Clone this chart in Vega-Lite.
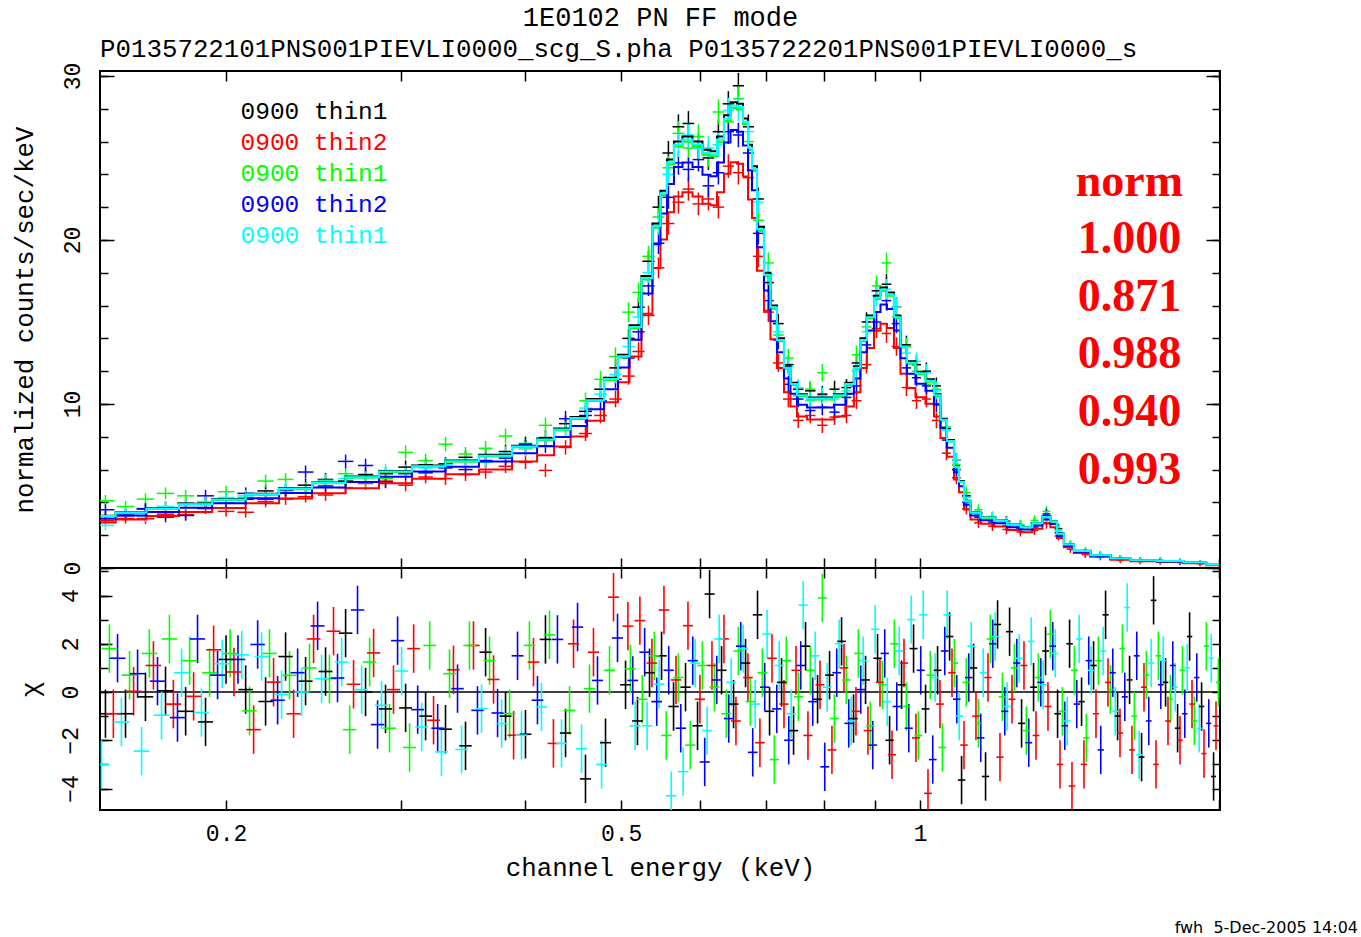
{
"$schema": "https://vega.github.io/schema/vega-lite/v6.json",
"background": "#ffffff",
"padding": {"left": 10, "top": 4, "right": 2, "bottom": 0},
"config": {
  "view": {"stroke": "#000000", "strokeWidth": 2},
  "axis": {"grid": false, "domain": false, "tickColor": "#000000", "tickWidth": 1.5, "labelFont": "Liberation Mono", "labelFontSize": 23, "labelColor": "#000000", "titleFont": "Liberation Mono", "titleFontSize": 25.8, "titleFontWeight": "normal", "titleColor": "#000000", "labelOverlap": false, "labelFlush": false}
},
"datasets": {
"one": [{}],
"spec": [
{"e":0.1512,"k":3.15,"r":2.88,"g":4.10,"b":3.55,"c":2.60},
{"e":0.1584,"k":3.19,"r":3.02,"g":3.75,"b":3.30,"c":3.42},
{"e":0.1659,"k":3.60,"r":3.00,"g":4.20,"b":3.62,"c":3.12},
{"e":0.1738,"k":3.70,"r":3.28,"g":4.55,"b":3.10,"c":3.75},
{"e":0.1821,"k":3.95,"r":3.25,"g":4.40,"b":3.20,"c":3.90},
{"e":0.1907,"k":3.98,"r":3.62,"g":3.95,"b":4.40,"c":4.05},
{"e":0.2000,"k":4.25,"r":3.45,"g":4.65,"b":3.95,"c":4.30},
{"e":0.2093,"k":4.20,"r":3.40,"g":4.30,"b":4.55,"c":4.40},
{"e":0.2192,"k":4.70,"r":4.05,"g":5.30,"b":4.20,"c":4.45},
{"e":0.2296,"k":4.60,"r":4.20,"g":5.40,"b":4.75,"c":4.90},
{"e":0.2405,"k":5.05,"r":4.35,"g":4.80,"b":5.85,"c":4.85},
{"e":0.2519,"k":5.40,"r":4.45,"g":5.35,"b":5.00,"c":5.30},
{"e":0.2639,"k":5.30,"r":4.90,"g":5.75,"b":6.50,"c":5.45},
{"e":0.2764,"k":5.70,"r":5.15,"g":5.20,"b":6.25,"c":5.50},
{"e":0.2895,"k":5.75,"r":5.30,"g":5.45,"b":5.25,"c":5.95},
{"e":0.3033,"k":6.15,"r":5.05,"g":7.05,"b":5.75,"c":5.90},
{"e":0.3177,"k":6.30,"r":5.55,"g":6.55,"b":5.80,"c":6.10},
{"e":0.3327,"k":6.35,"r":5.45,"g":7.55,"b":6.10,"c":6.30},
{"e":0.3485,"k":6.75,"r":5.70,"g":6.95,"b":6.00,"c":6.55},
{"e":0.3651,"k":6.85,"r":5.85,"g":7.30,"b":6.55,"c":6.45},
{"e":0.3824,"k":7.10,"r":6.20,"g":8.05,"b":6.70,"c":7.00},
{"e":0.4005,"k":7.35,"r":6.45,"g":7.60,"b":7.55,"c":7.25},
{"e":0.4195,"k":7.95,"r":5.95,"g":8.70,"b":7.45,"c":7.80},
{"e":0.4395,"k":8.80,"r":7.35,"g":8.40,"b":9.10,"c":8.45},
{"e":0.4603,"k":9.55,"r":8.20,"g":10.2,"b":9.30,"c":9.75},
{"e":0.4766,"k":10.9,"r":9.30,"g":11.5,"b":10.2,"c":10.6},
{"e":0.4935,"k":12.2,"r":10.3,"g":12.9,"b":11.5,"c":11.8},
{"e":0.5086,"k":14.0,"r":11.7,"g":15.6,"b":12.8,"c":13.5},
{"e":0.5205,"k":15.9,"r":13.2,"g":16.8,"b":14.4,"c":15.3},
{"e":0.5327,"k":18.7,"r":15.4,"g":19.0,"b":17.2,"c":18.0},
{"e":0.5452,"k":22.0,"r":18.3,"g":21.4,"b":19.8,"c":21.0},
{"e":0.5579,"k":25.3,"r":21.0,"g":24.4,"b":22.6,"c":24.0},
{"e":0.5710,"k":26.9,"r":22.3,"g":26.5,"b":24.7,"c":25.8},
{"e":0.5844,"k":27.1,"r":23.1,"g":25.6,"b":24.3,"c":26.4},
{"e":0.5981,"k":25.7,"r":22.2,"g":26.3,"b":24.9,"c":25.6},
{"e":0.6121,"k":25.0,"r":22.5,"g":25.2,"b":23.3,"c":25.6},
{"e":0.6265,"k":26.6,"r":22.0,"g":27.8,"b":24.1,"c":25.8},
{"e":0.6411,"k":28.3,"r":24.5,"g":27.2,"b":26.6,"c":27.9},
{"e":0.6562,"k":29.4,"r":24.1,"g":28.6,"b":26.4,"c":28.0},
{"e":0.6716,"k":26.9,"r":23.8,"g":26.0,"b":25.3,"c":26.6},
{"e":0.6873,"k":22.5,"r":19.0,"g":21.2,"b":20.4,"c":22.3},
{"e":0.7034,"k":17.4,"r":15.6,"g":18.6,"b":16.3,"c":17.9},
{"e":0.7199,"k":14.9,"r":12.5,"g":14.2,"b":13.9,"c":14.4},
{"e":0.7368,"k":12.4,"r":10.3,"g":12.8,"b":11.2,"c":12.3},
{"e":0.7540,"k":10.9,"r":9.0,"g":10.5,"b":10.3,"c":11.0},
{"e":0.7753,"k":10.8,"r":9.3,"g":10.9,"b":9.6,"c":10.2},
{"e":0.7972,"k":10.6,"r":8.7,"g":11.9,"b":9.8,"c":10.5},
{"e":0.8201,"k":10.9,"r":9.2,"g":10.4,"b":9.5,"c":10.3},
{"e":0.8432,"k":11.0,"r":9.3,"g":10.6,"b":10.4,"c":10.8},
{"e":0.8630,"k":12.5,"r":10.2,"g":13.0,"b":11.1,"c":12.0},
{"e":0.8832,"k":15.0,"r":12.4,"g":14.7,"b":13.6,"c":14.4},
{"e":0.9039,"k":16.9,"r":14.6,"g":17.2,"b":15.0,"c":16.6},
{"e":0.9251,"k":17.3,"r":14.3,"g":18.6,"b":16.3,"c":17.0},
{"e":0.9468,"k":15.9,"r":13.5,"g":15.3,"b":14.9,"c":15.9},
{"e":0.9690,"k":13.6,"r":11.0,"g":13.5,"b":12.2,"c":13.1},
{"e":0.9917,"k":12.4,"r":10.2,"g":12.0,"b":11.6,"c":12.6},
{"e":1.0149,"k":12.0,"r":10.3,"g":11.2,"b":11.1,"c":11.9},
{"e":1.0387,"k":11.1,"r":9.0,"g":10.9,"b":10.0,"c":10.8},
{"e":1.0630,"k":8.5,"r":7.0,"g":8.6,"b":7.8,"c":8.4},
{"e":1.0880,"k":6.6,"r":5.5,"g":6.3,"b":6.0,"c":6.6},
{"e":1.1135,"k":4.4,"r":3.6,"g":4.6,"b":4.0,"c":4.3},
{"e":1.1449,"k":3.35,"r":2.75,"g":3.55,"b":3.1,"c":3.3},
{"e":1.1827,"k":3.1,"r":2.55,"g":3.05,"b":2.8,"c":3.15},
{"e":1.2219,"k":2.85,"r":2.35,"g":2.7,"b":2.55,"c":2.8},
{"e":1.2622,"k":2.6,"r":2.2,"g":2.65,"b":2.4,"c":2.55},
{"e":1.3039,"k":2.75,"r":2.3,"g":2.9,"b":2.5,"c":2.7},
{"e":1.3406,"k":3.2,"r":2.7,"g":3.45,"b":3.3,"c":3.1},
{"e":1.3785,"k":2.4,"r":1.95,"g":2.35,"b":2.15,"c":2.3},
{"e":1.4174,"k":1.4,"r":1.15,"g":1.45,"b":1.3,"c":1.35},
{"e":1.4674,"k":1.0,"r":0.82,"g":1.05,"b":0.92,"c":0.98},
{"e":1.5193,"k":0.8,"r":0.66,"g":0.78,"b":0.75,"c":0.77},
{"e":1.5914,"k":0.6,"r":0.48,"g":0.6,"b":0.55,"c":0.58},
{"e":1.6669,"k":0.48,"r":0.4,"g":0.46,"b":0.45,"c":0.48},
{"e":1.7460,"k":0.46,"r":0.37,"g":0.45,"b":0.41,"c":0.44},
{"e":1.8287,"k":0.4,"r":0.33,"g":0.4,"b":0.36,"c":0.39},
{"e":1.9155,"k":0.31,"r":0.26,"g":0.3,"b":0.28,"c":0.3}
],
"model": [
{"e":0.1495,"k":3.19,"r":2.78,"g":3.15,"b":3.00,"c":3.17},
{"e":0.1603,"k":3.40,"r":2.96,"g":3.36,"b":3.20,"c":3.38},
{"e":0.1725,"k":3.64,"r":3.17,"g":3.60,"b":3.42,"c":3.61},
{"e":0.1864,"k":3.92,"r":3.41,"g":3.87,"b":3.68,"c":3.89},
{"e":0.2012,"k":4.20,"r":3.66,"g":4.15,"b":3.95,"c":4.17},
{"e":0.2177,"k":4.52,"r":3.94,"g":4.47,"b":4.25,"c":4.49},
{"e":0.2350,"k":4.86,"r":4.23,"g":4.80,"b":4.57,"c":4.83},
{"e":0.2536,"k":5.22,"r":4.55,"g":5.16,"b":4.91,"c":5.18},
{"e":0.2745,"k":5.58,"r":4.86,"g":5.51,"b":5.25,"c":5.54},
{"e":0.2962,"k":5.92,"r":5.16,"g":5.85,"b":5.56,"c":5.88},
{"e":0.3198,"k":6.25,"r":5.44,"g":6.18,"b":5.88,"c":6.21},
{"e":0.3460,"k":6.56,"r":5.71,"g":6.48,"b":6.17,"c":6.51},
{"e":0.3736,"k":6.90,"r":6.01,"g":6.82,"b":6.49,"c":6.85},
{"e":0.4034,"k":7.45,"r":6.49,"g":7.36,"b":7.00,"c":7.40},
{"e":0.4196,"k":7.90,"r":6.88,"g":7.81,"b":7.43,"c":7.84},
{"e":0.4365,"k":8.50,"r":7.40,"g":8.40,"b":7.99,"c":8.44},
{"e":0.4530,"k":9.20,"r":8.01,"g":9.09,"b":8.65,"c":9.14},
{"e":0.4712,"k":10.3,"r":8.97,"g":10.18,"b":9.68,"c":10.23},
{"e":0.4901,"k":11.6,"r":10.10,"g":11.46,"b":10.90,"c":11.52},
{"e":0.5027,"k":13.0,"r":11.32,"g":12.84,"b":12.22,"c":12.91},
{"e":0.5169,"k":14.8,"r":12.89,"g":14.62,"b":13.91,"c":14.70},
{"e":0.5314,"k":17.8,"r":15.50,"g":17.59,"b":16.73,"c":17.68},
{"e":0.5439,"k":21.0,"r":18.29,"g":20.75,"b":19.74,"c":20.85},
{"e":0.5515,"k":23.0,"r":20.03,"g":22.72,"b":21.62,"c":22.84},
{"e":0.5606,"k":24.9,"r":21.69,"g":24.60,"b":23.41,"c":24.73},
{"e":0.5697,"k":26.0,"r":22.65,"g":25.69,"b":24.44,"c":25.82},
{"e":0.5831,"k":26.3,"r":22.91,"g":25.98,"b":24.72,"c":26.12},
{"e":0.5968,"k":26.0,"r":22.65,"g":25.69,"b":24.44,"c":25.82},
{"e":0.6108,"k":25.5,"r":22.21,"g":25.19,"b":23.97,"c":25.32},
{"e":0.6193,"k":25.4,"r":22.12,"g":25.10,"b":23.88,"c":25.22},
{"e":0.6295,"k":26.3,"r":22.91,"g":25.98,"b":24.72,"c":26.12},
{"e":0.6398,"k":27.6,"r":24.04,"g":27.27,"b":25.94,"c":27.41},
{"e":0.6488,"k":28.4,"r":24.74,"g":28.06,"b":26.70,"c":28.20},
{"e":0.6594,"k":28.3,"r":24.65,"g":27.96,"b":26.60,"c":28.10},
{"e":0.6671,"k":27.4,"r":23.87,"g":27.07,"b":25.76,"c":27.21},
{"e":0.6749,"k":25.8,"r":22.47,"g":25.49,"b":24.25,"c":25.62},
{"e":0.6796,"k":24.5,"r":21.34,"g":24.21,"b":23.03,"c":24.33},
{"e":0.6907,"k":20.8,"r":18.12,"g":20.55,"b":19.55,"c":20.65},
{"e":0.7020,"k":18.0,"r":15.68,"g":17.78,"b":16.92,"c":17.87},
{"e":0.7118,"k":16.0,"r":13.94,"g":15.81,"b":15.04,"c":15.89},
{"e":0.7235,"k":14.0,"r":12.19,"g":13.83,"b":13.16,"c":13.90},
{"e":0.7353,"k":12.3,"r":10.71,"g":12.15,"b":11.56,"c":12.21},
{"e":0.7456,"k":11.3,"r":9.84,"g":11.16,"b":10.62,"c":11.22},
{"e":0.7578,"k":10.6,"r":9.23,"g":10.47,"b":9.96,"c":10.53},
{"e":0.7810,"k":10.4,"r":9.06,"g":10.28,"b":9.78,"c":10.33},
{"e":0.8067,"k":10.4,"r":9.06,"g":10.28,"b":9.78,"c":10.33},
{"e":0.8314,"k":10.6,"r":9.23,"g":10.47,"b":9.96,"c":10.53},
{"e":0.8508,"k":11.3,"r":9.84,"g":11.16,"b":10.62,"c":11.22},
{"e":0.8648,"k":12.3,"r":10.71,"g":12.15,"b":11.56,"c":12.21},
{"e":0.8769,"k":14.0,"r":12.19,"g":13.83,"b":13.16,"c":13.90},
{"e":0.8915,"k":15.4,"r":13.41,"g":15.22,"b":14.48,"c":15.29},
{"e":0.9060,"k":16.6,"r":14.46,"g":16.40,"b":15.60,"c":16.48},
{"e":0.9187,"k":17.1,"r":14.89,"g":16.89,"b":16.07,"c":16.98},
{"e":0.9337,"k":16.8,"r":14.63,"g":16.60,"b":15.79,"c":16.68},
{"e":0.9490,"k":15.4,"r":13.41,"g":15.22,"b":14.48,"c":15.29},
{"e":0.9623,"k":13.6,"r":11.85,"g":13.44,"b":12.78,"c":13.50},
{"e":0.9780,"k":12.6,"r":10.97,"g":12.45,"b":11.84,"c":12.51},
{"e":1.0010,"k":11.95,"r":10.41,"g":11.81,"b":11.23,"c":11.87},
{"e":1.0245,"k":11.5,"r":10.02,"g":11.36,"b":10.81,"c":11.42},
{"e":1.0412,"k":10.6,"r":9.23,"g":10.47,"b":9.96,"c":10.53},
{"e":1.0558,"k":9.1,"r":7.93,"g":8.99,"b":8.55,"c":9.04},
{"e":1.0731,"k":7.8,"r":6.79,"g":7.71,"b":7.33,"c":7.75},
{"e":1.0907,"k":6.2,"r":5.40,"g":6.13,"b":5.83,"c":6.16},
{"e":1.0983,"k":5.3,"r":4.62,"g":5.24,"b":4.98,"c":5.26},
{"e":1.1163,"k":4.1,"r":3.57,"g":4.05,"b":3.85,"c":4.07},
{"e":1.1319,"k":3.4,"r":2.96,"g":3.36,"b":3.20,"c":3.38},
{"e":1.1692,"k":3.1,"r":2.70,"g":3.06,"b":2.91,"c":3.08},
{"e":1.2050,"k":2.9,"r":2.53,"g":2.87,"b":2.73,"c":2.88},
{"e":1.2418,"k":2.65,"r":2.31,"g":2.62,"b":2.49,"c":2.63},
{"e":1.2828,"k":2.5,"r":2.18,"g":2.47,"b":2.35,"c":2.48},
{"e":1.3129,"k":2.75,"r":2.40,"g":2.72,"b":2.59,"c":2.73},
{"e":1.3437,"k":3.15,"r":2.74,"g":3.11,"b":2.96,"c":3.13},
{"e":1.3625,"k":2.85,"r":2.48,"g":2.82,"b":2.68,"c":2.83},
{"e":1.3848,"k":2.1,"r":1.83,"g":2.07,"b":1.97,"c":2.09},
{"e":1.4075,"k":1.45,"r":1.26,"g":1.43,"b":1.36,"c":1.44},
{"e":1.4505,"k":1.05,"r":0.91,"g":1.04,"b":0.99,"c":1.04},
{"e":1.5193,"k":0.78,"r":0.68,"g":0.77,"b":0.73,"c":0.77},
{"e":1.5914,"k":0.58,"r":0.51,"g":0.57,"b":0.55,"c":0.58},
{"e":1.6670,"k":0.47,"r":0.41,"g":0.46,"b":0.44,"c":0.47},
{"e":1.7998,"k":0.42,"r":0.37,"g":0.41,"b":0.39,"c":0.42},
{"e":1.8851,"k":0.33,"r":0.29,"g":0.33,"b":0.31,"c":0.33},
{"e":2.0000,"k":0.2,"r":0.17,"g":0.2,"b":0.19,"c":0.2}
],
"resid": [
{"s":"k","e":0.1512,"r":-0.9},{"s":"k","e":0.1584,"r":-0.9},{"s":"k","e":0.1659,"r":-0.2},{"s":"k","e":0.1738,"r":0.05},{"s":"k","e":0.1821,"r":-0.8},{"s":"k","e":0.1907,"r":-1.24},{"s":"k","e":0.2000,"r":1.35},{"s":"k","e":0.2093,"r":0.1},{"s":"k","e":0.2192,"r":-0.39},{"s":"k","e":0.2296,"r":1.47},{"s":"k","e":0.2405,"r":0.45},{"s":"k","e":0.2519,"r":0.85},{"s":"k","e":0.2639,"r":2.44},{"s":"k","e":0.2764,"r":0.0},{"s":"k","e":0.2895,"r":-0.7},{"s":"k","e":0.3033,"r":-0.66},{"s":"k","e":0.3177,"r":-1.0},{"s":"k","e":0.3327,"r":-1.54},{"s":"k","e":0.3485,"r":-2.23},{"s":"k","e":0.3651,"r":1.65},{"s":"k","e":0.3824,"r":-1.0},{"s":"k","e":0.4005,"r":-1.75},{"s":"k","e":0.4195,"r":2.18},{"s":"k","e":0.4395,"r":-1.7},{"s":"k","e":0.4603,"r":-3.6},{"s":"k","e":0.4822,"r":-2.1},
{"s":"k","e":0.5051,"r":0.3},{"s":"k","e":0.5193,"r":-1.2},{"s":"k","e":0.5340,"r":0.8},{"s":"k","e":0.5491,"r":1.5},{"s":"k","e":0.5646,"r":-0.6},{"s":"k","e":0.5805,"r":0.2},{"s":"k","e":0.5969,"r":-1.4},{"s":"k","e":0.6138,"r":4.06},{"s":"k","e":0.6311,"r":0.9},{"s":"k","e":0.6489,"r":-0.5},{"s":"k","e":0.6672,"r":1.2},{"s":"k","e":0.6860,"r":3.2},{"s":"k","e":0.7054,"r":-0.8},{"s":"k","e":0.7253,"r":0.4},{"s":"k","e":0.7458,"r":-1.6},{"s":"k","e":0.7668,"r":1.9},{"s":"k","e":0.7885,"r":-0.3},{"s":"k","e":0.8107,"r":0.7},{"s":"k","e":0.8336,"r":2.1},{"s":"k","e":0.8571,"r":-1.1},{"s":"k","e":0.8813,"r":0.5},{"s":"k","e":0.9062,"r":1.4},{"s":"k","e":0.9318,"r":-2.0},{"s":"k","e":0.9581,"r":0.3},{"s":"k","e":0.9851,"r":1.8},{"s":"k","e":1.0129,"r":-0.7},{"s":"k","e":1.0415,"r":0.9},{"s":"k","e":1.0709,"r":2.3},{"s":"k","e":1.1011,"r":-3.65},{"s":"k","e":1.1322,"r":1.0},{"s":"k","e":1.1641,"r":-3.5},{"s":"k","e":1.1970,"r":2.8},{"s":"k","e":1.2308,"r":2.5},{"s":"k","e":1.2655,"r":-1.3},{"s":"k","e":1.3012,"r":0.2},{"s":"k","e":1.3379,"r":1.7},{"s":"k","e":1.3757,"r":-0.9},{"s":"k","e":1.4145,"r":2.0},{"s":"k","e":1.4544,"r":-0.4},{"s":"k","e":1.4955,"r":1.1},{"s":"k","e":1.5377,"r":3.2},{"s":"k","e":1.5811,"r":-1.0},{"s":"k","e":1.6257,"r":0.5},{"s":"k","e":1.6716,"r":-2.7},{"s":"k","e":1.7188,"r":3.8},{"s":"k","e":1.7673,"r":0.4},{"s":"k","e":1.8172,"r":-1.5},{"s":"k","e":1.8685,"r":2.3},{"s":"k","e":1.9212,"r":-0.6},{"s":"k","e":1.9754,"r":-3.5},
{"s":"r","e":0.1540,"r":-0.9},{"s":"r","e":0.1614,"r":0.03},{"s":"r","e":0.1690,"r":1.1},{"s":"r","e":0.1770,"r":-0.5},{"s":"r","e":0.1855,"r":-0.18},{"s":"r","e":0.1943,"r":1.75},{"s":"r","e":0.2037,"r":0.83},{"s":"r","e":0.2132,"r":-1.56},{"s":"r","e":0.2233,"r":0.41},{"s":"r","e":0.2339,"r":-0.9},{"s":"r","e":0.2450,"r":2.2},{"s":"r","e":0.2566,"r":2.52},{"s":"r","e":0.2688,"r":0.32},{"s":"r","e":0.2816,"r":1.62},{"s":"r","e":0.2949,"r":0.1},{"s":"r","e":0.3090,"r":1.8},{"s":"r","e":0.3236,"r":-1.17},{"s":"r","e":0.3389,"r":0.92},{"s":"r","e":0.3550,"r":1.93},{"s":"r","e":0.3719,"r":0.52},{"s":"r","e":0.3896,"r":-1.79},{"s":"r","e":0.4080,"r":1.24},{"s":"r","e":0.4273,"r":-2.13},{"s":"r","e":0.4477,"r":2.0},{"s":"r","e":0.4689,"r":1.65},{"s":"r","e":0.4912,"r":3.93},
{"s":"r","e":0.5079,"r":2.73},{"s":"r","e":0.5222,"r":2.96},{"s":"r","e":0.5370,"r":1.2},{"s":"r","e":0.5522,"r":3.4},{"s":"r","e":0.5678,"r":0.5},{"s":"r","e":0.5838,"r":2.75},{"s":"r","e":0.6002,"r":-0.3},{"s":"r","e":0.6172,"r":1.1},{"s":"r","e":0.6346,"r":2.2},{"s":"r","e":0.6525,"r":-1.2},{"s":"r","e":0.6709,"r":0.6},{"s":"r","e":0.6898,"r":-2.1},{"s":"r","e":0.7094,"r":1.4},{"s":"r","e":0.7294,"r":-0.5},{"s":"r","e":0.7500,"r":0.9},{"s":"r","e":0.7711,"r":-1.8},{"s":"r","e":0.7929,"r":0.3},{"s":"r","e":0.8152,"r":-2.4},{"s":"r","e":0.8383,"r":1.0},{"s":"r","e":0.8619,"r":-0.8},{"s":"r","e":0.8862,"r":-1.6},{"s":"r","e":0.9113,"r":0.4},{"s":"r","e":0.9370,"r":-2.6},{"s":"r","e":0.9635,"r":1.2},{"s":"r","e":0.9906,"r":-1.9},{"s":"r","e":1.0186,"r":-4.2},{"s":"r","e":1.0473,"r":-0.5},{"s":"r","e":1.0769,"r":0.8},{"s":"r","e":1.1073,"r":-2.2},{"s":"r","e":1.1385,"r":-1.0},{"s":"r","e":1.1706,"r":0.6},{"s":"r","e":1.2037,"r":-2.7},{"s":"r","e":1.2377,"r":-0.3},{"s":"r","e":1.2726,"r":1.1},{"s":"r","e":1.3085,"r":-1.8},{"s":"r","e":1.3454,"r":-0.6},{"s":"r","e":1.3834,"r":-3.0},{"s":"r","e":1.4224,"r":-3.9},{"s":"r","e":1.4625,"r":-3.0},{"s":"r","e":1.5039,"r":-0.9},{"s":"r","e":1.5463,"r":0.4},{"s":"r","e":1.5900,"r":-1.7},{"s":"r","e":1.6348,"r":-2.4},{"s":"r","e":1.6810,"r":0.2},{"s":"r","e":1.7284,"r":-3.0},{"s":"r","e":1.7772,"r":-1.2},{"s":"r","e":1.8274,"r":-2.0},{"s":"r","e":1.8790,"r":-0.5},{"s":"r","e":1.9320,"r":-2.55},{"s":"r","e":1.9865,"r":-1.4},
{"s":"g","e":0.1526,"r":1.8},{"s":"g","e":0.1599,"r":0.7},{"s":"g","e":0.1674,"r":1.6},{"s":"g","e":0.1754,"r":2.2},{"s":"g","e":0.1838,"r":1.3},{"s":"g","e":0.1925,"r":0.8},{"s":"g","e":0.2019,"r":1.6},{"s":"g","e":0.2112,"r":-0.78},{"s":"g","e":0.2212,"r":1.6},{"s":"g","e":0.2317,"r":0.69},{"s":"g","e":0.2427,"r":1.0},{"s":"g","e":0.2542,"r":0.55},{"s":"g","e":0.2664,"r":-1.56},{"s":"g","e":0.2790,"r":1.24},{"s":"g","e":0.2922,"r":-1.5},{"s":"g","e":0.3061,"r":-2.3},{"s":"g","e":0.3207,"r":1.93},{"s":"g","e":0.3358,"r":0.76},{"s":"g","e":0.3517,"r":1.93},{"s":"g","e":0.3685,"r":1.3},{"s":"g","e":0.3860,"r":-0.9},{"s":"g","e":0.4042,"r":1.93},{"s":"g","e":0.4234,"r":2.37},{"s":"g","e":0.4436,"r":-0.76},{"s":"g","e":0.4646,"r":0.14},{"s":"g","e":0.4867,"r":0.9},
{"s":"g","e":0.5108,"r":0.96},{"s":"g","e":0.5251,"r":-0.3},{"s":"g","e":0.5400,"r":1.5},{"s":"g","e":0.5552,"r":-1.8},{"s":"g","e":0.5709,"r":0.6},{"s":"g","e":0.5870,"r":-2.2},{"s":"g","e":0.6036,"r":1.1},{"s":"g","e":0.6207,"r":0.2},{"s":"g","e":0.6382,"r":-0.9},{"s":"g","e":0.6562,"r":1.7},{"s":"g","e":0.6747,"r":-0.4},{"s":"g","e":0.6937,"r":0.8},{"s":"g","e":0.7133,"r":-2.8},{"s":"g","e":0.7334,"r":1.3},{"s":"g","e":0.7542,"r":-0.2},{"s":"g","e":0.7754,"r":0.9},{"s":"g","e":0.7973,"r":3.9},{"s":"g","e":0.8198,"r":-1.1},{"s":"g","e":0.8429,"r":0.5},{"s":"g","e":0.8667,"r":1.6},{"s":"g","e":0.8912,"r":-1.4},{"s":"g","e":0.9163,"r":0.3},{"s":"g","e":0.9422,"r":2.0},{"s":"g","e":0.9688,"r":-0.6},{"s":"g","e":0.9961,"r":-1.8},{"s":"g","e":1.0242,"r":0.7},{"s":"g","e":1.0532,"r":-2.3},{"s":"g","e":1.0829,"r":1.2},{"s":"g","e":1.1134,"r":0.4},{"s":"g","e":1.1449,"r":-1.3},{"s":"g","e":1.1771,"r":2.2},{"s":"g","e":1.2104,"r":-0.2},{"s":"g","e":1.2446,"r":1.0},{"s":"g","e":1.2797,"r":-1.6},{"s":"g","e":1.3158,"r":0.6},{"s":"g","e":1.3529,"r":2.4},{"s":"g","e":1.3911,"r":-0.8},{"s":"g","e":1.4303,"r":0.9},{"s":"g","e":1.4707,"r":-1.9},{"s":"g","e":1.5122,"r":1.3},{"s":"g","e":1.5549,"r":0.1},{"s":"g","e":1.5988,"r":1.8},{"s":"g","e":1.6439,"r":-1.0},{"s":"g","e":1.6903,"r":0.7},{"s":"g","e":1.7381,"r":1.5},{"s":"g","e":1.7871,"r":-0.3},{"s":"g","e":1.8376,"r":0.9},{"s":"g","e":1.8894,"r":-1.2},{"s":"g","e":1.9427,"r":1.9},{"s":"g","e":1.9975,"r":0.4},
{"s":"b","e":0.1555,"r":1.4},{"s":"b","e":0.1629,"r":0.76},{"s":"b","e":0.1706,"r":0.45},{"s":"b","e":0.1787,"r":-1.06},{"s":"b","e":0.1872,"r":2.2},{"s":"b","e":0.1961,"r":0.7},{"s":"b","e":0.2056,"r":1.35},{"s":"b","e":0.2152,"r":1.97},{"s":"b","e":0.2254,"r":-0.34},{"s":"b","e":0.2361,"r":0.8},{"s":"b","e":0.2473,"r":2.74},{"s":"b","e":0.2590,"r":0.58},{"s":"b","e":0.2713,"r":3.4},{"s":"b","e":0.2842,"r":-1.35},{"s":"b","e":0.2977,"r":2.13},{"s":"b","e":0.3119,"r":-0.73},{"s":"b","e":0.3267,"r":-1.5},{"s":"b","e":0.3421,"r":0.14},{"s":"b","e":0.3583,"r":-0.76},{"s":"b","e":0.3754,"r":-0.87},{"s":"b","e":0.3932,"r":1.5},{"s":"b","e":0.4118,"r":-0.34},{"s":"b","e":0.4313,"r":2.18},{"s":"b","e":0.4519,"r":2.69},{"s":"b","e":0.4733,"r":0.48},{"s":"b","e":0.4958,"r":2.24},
{"s":"b","e":0.5136,"r":0.48},{"s":"b","e":0.5280,"r":1.65},{"s":"b","e":0.5430,"r":-0.4},{"s":"b","e":0.5583,"r":0.9},{"s":"b","e":0.5741,"r":-1.5},{"s":"b","e":0.5903,"r":1.3},{"s":"b","e":0.6069,"r":-2.9},{"s":"b","e":0.6241,"r":0.5},{"s":"b","e":0.6417,"r":-1.1},{"s":"b","e":0.6598,"r":1.9},{"s":"b","e":0.6784,"r":-2.5},{"s":"b","e":0.6975,"r":0.2},{"s":"b","e":0.7173,"r":-0.7},{"s":"b","e":0.7375,"r":-2.0},{"s":"b","e":0.7583,"r":1.1},{"s":"b","e":0.7797,"r":-0.4},{"s":"b","e":0.8017,"r":-3.1},{"s":"b","e":0.8243,"r":0.8},{"s":"b","e":0.8476,"r":-1.3},{"s":"b","e":0.8715,"r":0.1},{"s":"b","e":0.8961,"r":-2.2},{"s":"b","e":0.9214,"r":1.6},{"s":"b","e":0.9475,"r":-0.6},{"s":"b","e":0.9742,"r":-1.5},{"s":"b","e":1.0016,"r":0.9},{"s":"b","e":1.0299,"r":-2.8},{"s":"b","e":1.0590,"r":1.7},{"s":"b","e":1.0889,"r":-0.3},{"s":"b","e":1.1196,"r":0.6},{"s":"b","e":1.1512,"r":-1.9},{"s":"b","e":1.1837,"r":2.0},{"s":"b","e":1.2171,"r":-0.8},{"s":"b","e":1.2515,"r":1.2},{"s":"b","e":1.2868,"r":-2.1},{"s":"b","e":1.3231,"r":0.4},{"s":"b","e":1.3604,"r":1.9},{"s":"b","e":1.3988,"r":-1.4},{"s":"b","e":1.4383,"r":-0.5},{"s":"b","e":1.4788,"r":1.3},{"s":"b","e":1.5206,"r":-2.4},{"s":"b","e":1.5635,"r":0.8},{"s":"b","e":1.6077,"r":-0.2},{"s":"b","e":1.6530,"r":1.5},{"s":"b","e":1.6997,"r":-1.2},{"s":"b","e":1.7477,"r":0.3},{"s":"b","e":1.7970,"r":1.1},{"s":"b","e":1.8477,"r":-0.9},{"s":"b","e":1.8999,"r":0.6},{"s":"b","e":1.9535,"r":-1.3},
{"s":"c","e":0.1498,"r":-3.0},{"s":"c","e":0.1569,"r":-1.24},{"s":"c","e":0.1644,"r":-2.45},{"s":"c","e":0.1722,"r":-0.96},{"s":"c","e":0.1804,"r":0.8},{"s":"c","e":0.1889,"r":-0.85},{"s":"c","e":0.1982,"r":1.17},{"s":"c","e":0.2074,"r":1.54},{"s":"c","e":0.2172,"r":1.47},{"s":"c","e":0.2275,"r":-0.1},{"s":"c","e":0.2383,"r":0.0},{"s":"c","e":0.2496,"r":0.55},{"s":"c","e":0.2615,"r":1.24},{"s":"c","e":0.2739,"r":0.1},{"s":"c","e":0.2868,"r":-0.55},{"s":"c","e":0.3005,"r":0.87},{"s":"c","e":0.3148,"r":-1.45},{"s":"c","e":0.3296,"r":-2.48},{"s":"c","e":0.3453,"r":-2.38},{"s":"c","e":0.3617,"r":-0.69},{"s":"c","e":0.3789,"r":-1.31},{"s":"c","e":0.3968,"r":-1.79},{"s":"c","e":0.4156,"r":-0.62},{"s":"c","e":0.4354,"r":-2.13},{"s":"c","e":0.4561,"r":-2.35},{"s":"c","e":0.4778,"r":-3.0},
{"s":"c","e":0.5165,"r":-1.4},{"s":"c","e":0.5310,"r":-1.4},{"s":"c","e":0.5460,"r":0.32},{"s":"c","e":0.5615,"r":-4.3},{"s":"c","e":0.5773,"r":-3.3},{"s":"c","e":0.5936,"r":1.2},{"s":"c","e":0.6103,"r":-1.6},{"s":"c","e":0.6276,"r":2.2},{"s":"c","e":0.6453,"r":0.4},{"s":"c","e":0.6635,"r":1.8},{"s":"c","e":0.6822,"r":-0.5},{"s":"c","e":0.7014,"r":2.4},{"s":"c","e":0.7213,"r":1.1},{"s":"c","e":0.7416,"r":-0.9},{"s":"c","e":0.7626,"r":3.6},{"s":"c","e":0.7841,"r":1.5},{"s":"c","e":0.8062,"r":0.2},{"s":"c","e":0.8289,"r":2.0},{"s":"c","e":0.8524,"r":-1.2},{"s":"c","e":0.8764,"r":1.3},{"s":"c","e":0.9011,"r":2.6},{"s":"c","e":0.9266,"r":-0.4},{"s":"c","e":0.9528,"r":1.7},{"s":"c","e":0.9796,"r":3.0},{"s":"c","e":1.0073,"r":3.2},{"s":"c","e":1.0357,"r":0.6},{"s":"c","e":1.0649,"r":3.2},{"s":"c","e":1.0950,"r":-1.0},{"s":"c","e":1.1259,"r":1.9},{"s":"c","e":1.1577,"r":0.8},{"s":"c","e":1.1903,"r":2.3},{"s":"c","e":1.2239,"r":-0.6},{"s":"c","e":1.2585,"r":1.4},{"s":"c","e":1.2940,"r":2.1},{"s":"c","e":1.3305,"r":0.3},{"s":"c","e":1.3680,"r":1.6},{"s":"c","e":1.4067,"r":-1.2},{"s":"c","e":1.4463,"r":2.2},{"s":"c","e":1.4871,"r":0.9},{"s":"c","e":1.5291,"r":1.7},{"s":"c","e":1.5723,"r":-0.8},{"s":"c","e":1.6167,"r":3.5},{"s":"c","e":1.6623,"r":-2.6},{"s":"c","e":1.7092,"r":1.2},{"s":"c","e":1.7575,"r":1.3},{"s":"c","e":1.8071,"r":0.2},{"s":"c","e":1.8581,"r":1.0},{"s":"c","e":1.9105,"r":-1.5},{"s":"c","e":1.9644,"r":1.4}
]
},
"title": {"text": "1E0102 PN FF mode", "anchor": "middle", "dx": -24, "font": "Liberation Mono", "fontSize": 27, "fontWeight": "normal", "color": "#000000", "offset": 3},
"spacing": 0,
"bounds": "flush",
"vconcat": [
{
  "width": 1120,
  "height": 497,
  "title": {"text": "P0135722101PNS001PIEVLI0000_scg_S.pha P0135722201PNS001PIEVLI0000_s", "anchor": "start", "frame": "group", "font": "Liberation Mono", "fontSize": 25.8, "fontWeight": "normal", "color": "#000000", "offset": -1},
  "layer": [
    {
      "data": {"name": "spec"},
      "transform": [{"fold": ["k", "r", "g", "b", "c"], "as": ["s", "y"]}],
      "mark": {"type": "tick", "orient": "vertical", "thickness": 1.5, "opacity": 1, "clip": true},
      "encoding": {
        "x": {"field": "e", "type": "quantitative", "scale": {"type": "log", "domain": [0.1493, 2.005], "nice": false}, "axis": {"orient": "bottom", "values": [0.2,0.3,0.4,0.5,0.6,0.7,0.8,0.9,1,2], "labels": false, "tickSize": -10, "title": null, "minExtent": 0, "maxExtent": 0}},
        "y": {"field": "y", "type": "quantitative", "scale": {"domain": [0, 30.3], "nice": false, "zero": false}, "axis": {"orient": "left", "values": [0,10,20,30], "tickSize": -14, "labelPadding": 30, "labelAngle": 270, "labelAlign": "center", "labelBaseline": "bottom", "title": "normalized counts/sec/keV", "titlePadding": 24}},
        "color": {"field": "s", "type": "nominal", "scale": {"domain": ["k", "r", "g", "b", "c"], "range": ["#000000", "#ff0000", "#00ff00", "#0000ff", "#00ffff"]}, "legend": null},
        "size": {"field": "y", "type": "quantitative", "scale": {"type": "sqrt", "domain": [0, 30], "range": [3, 26]}, "legend": null}
      }
    },
    {
      "data": {"name": "spec"},
      "transform": [{"fold": ["k", "r", "g", "b", "c"], "as": ["s", "y"]}],
      "mark": {"type": "tick", "orient": "horizontal", "thickness": 1.5, "opacity": 1, "clip": true},
      "encoding": {
        "x": {"field": "e", "type": "quantitative", "scale": {"type": "log", "domain": [0.1493, 2.005], "nice": false}, "axis": {"orient": "top", "values": [0.2,0.3,0.4,0.5,0.6,0.7,0.8,0.9,1,2], "labels": false, "tickSize": -10, "title": null, "minExtent": 0, "maxExtent": 0}},
        "y": {"field": "y", "type": "quantitative", "scale": {"domain": [0, 30.3], "nice": false, "zero": false}, "axis": {"orient": "right", "values": [0,2,4,6,8,10,12,14,16,18,20,22,24,26,28,30], "labels": false, "tickSize": -8, "title": null, "minExtent": 0, "maxExtent": 0}},
        "color": {"field": "s", "type": "nominal", "scale": {"domain": ["k", "r", "g", "b", "c"], "range": ["#000000", "#ff0000", "#00ff00", "#0000ff", "#00ffff"]}, "legend": null},
        "size": {"field": "e", "type": "quantitative", "scale": {"type": "log", "domain": [0.15, 2], "range": [18, 6]}, "legend": null}
      }
    },
    {
      "data": {"name": "model"},
      "transform": [{"fold": ["k", "r", "g", "b", "c"], "as": ["s", "y"]}],
      "mark": {"type": "line", "interpolate": "step", "strokeWidth": 2, "clip": true},
      "encoding": {
        "x": {"field": "e", "type": "quantitative", "scale": {"type": "log", "domain": [0.1493, 2.005], "nice": false}, "axis": null},
        "y": {"field": "y", "type": "quantitative", "scale": {"domain": [0, 30.3], "nice": false, "zero": false}, "axis": {"orient": "left", "values": [0,2,4,6,8,10,12,14,16,18,20,22,24,26,28,30], "labels": false, "tickSize": -8, "title": null, "minExtent": 0, "maxExtent": 0}},
        "color": {"field": "s", "type": "nominal", "scale": {"domain": ["k", "r", "g", "b", "c"], "range": ["#000000", "#ff0000", "#00ff00", "#0000ff", "#00ffff"]}, "legend": null}
      }
    },
    {
      "data": {"name": "one"},
      "mark": {"type": "text", "align": "left", "baseline": "middle", "font": "Liberation Mono", "fontSize": 24.5, "color": "#000000"},
      "encoding": {
        "x": {"datum": 0.2068, "type": "quantitative", "axis": null},
        "y": {"datum": 27.8, "type": "quantitative", "axis": {"orient": "right", "values": [0,10,20,30], "labels": false, "tickSize": -14, "title": null, "minExtent": 0, "maxExtent": 0}},
        "text": {"value": "0900 thin1"}
      }
    },
    {
      "data": {"name": "one"},
      "mark": {"type": "text", "align": "left", "baseline": "middle", "font": "Liberation Mono", "fontSize": 24.5, "color": "#ff0000"},
      "encoding": {
        "x": {"datum": 0.2068, "type": "quantitative", "axis": null},
        "y": {"datum": 25.91, "type": "quantitative", "axis": null},
        "text": {"value": "0900 thin2"}
      }
    },
    {
      "data": {"name": "one"},
      "mark": {"type": "text", "align": "left", "baseline": "middle", "font": "Liberation Mono", "fontSize": 24.5, "color": "#00ff00"},
      "encoding": {
        "x": {"datum": 0.2068, "type": "quantitative", "axis": null},
        "y": {"datum": 24.02, "type": "quantitative", "axis": null},
        "text": {"value": "0900 thin1"}
      }
    },
    {
      "data": {"name": "one"},
      "mark": {"type": "text", "align": "left", "baseline": "middle", "font": "Liberation Mono", "fontSize": 24.5, "color": "#0000ff"},
      "encoding": {
        "x": {"datum": 0.2068, "type": "quantitative", "axis": null},
        "y": {"datum": 22.13, "type": "quantitative", "axis": null},
        "text": {"value": "0900 thin2"}
      }
    },
    {
      "data": {"name": "one"},
      "mark": {"type": "text", "align": "left", "baseline": "middle", "font": "Liberation Mono", "fontSize": 24.5, "color": "#00ffff"},
      "encoding": {
        "x": {"datum": 0.2068, "type": "quantitative", "axis": null},
        "y": {"datum": 20.24, "type": "quantitative", "axis": null},
        "text": {"value": "0900 thin1"}
      }
    },
    {
      "data": {"name": "one"},
      "mark": {"type": "text", "align": "center", "baseline": "alphabetic", "font": "Liberation Serif", "fontWeight": "bold", "fontSize": 46, "lineHeight": 57.6, "color": "#ff0000"},
      "encoding": {
        "x": {"datum": 1.625, "type": "quantitative", "axis": null},
        "y": {"datum": 22.7, "type": "quantitative", "axis": null},
        "text": {"value": ["norm", "1.000", "0.871", "0.988", "0.940", "0.993"]}
      }
    }
  ],
  "resolve": {"scale": {"size": "independent"}, "axis": {"x": "independent", "y": "independent"}}
},
{
  "width": 1120,
  "height": 242,
  "title": {"text": "fwh\u00a0\u00a05-Dec-2005 14:04", "orient": "bottom", "anchor": "end", "frame": "group", "dx": 138, "offset": 40, "font": "DejaVu Sans", "fontSize": 16, "fontWeight": "normal", "color": "#000000"},
  "layer": [
    {
      "data": {"name": "one"},
      "mark": {"type": "rule", "color": "#000000", "strokeWidth": 1.5},
      "encoding": {
        "y": {"datum": 0, "type": "quantitative", "scale": {"domain": [-4.89, 5.14], "nice": false, "zero": false}, "axis": {"orient": "left", "values": [-4,-3,-2,-1,0,1,2,3,4,5], "labels": false, "tickSize": -8, "title": null, "minExtent": 0, "maxExtent": 0}}
      }
    },
    {
      "data": {"name": "resid"},
      "mark": {"type": "tick", "orient": "vertical", "size": 48.4, "thickness": 1.6, "opacity": 1, "clip": true},
      "encoding": {
        "x": {"field": "e", "type": "quantitative", "scale": {"type": "log", "domain": [0.1493, 2.005], "nice": false}, "axis": {"orient": "bottom", "values": [0.2,0.3,0.4,0.5,0.6,0.7,0.8,0.9,1,2], "tickSize": -10, "labelPadding": 22, "format": "~g", "labelExpr": "datum.value == 0.2 || datum.value == 0.5 || datum.value == 1 ? datum.label : ''", "title": "channel energy (keV)", "titlePadding": 10}},
        "y": {"field": "r", "type": "quantitative", "scale": {"domain": [-4.89, 5.14], "nice": false, "zero": false}, "axis": {"orient": "left", "values": [-4,-2,0,2,4], "tickSize": -12, "labelPadding": 30, "labelAngle": 270, "labelAlign": "center", "labelBaseline": "bottom", "title": "χ", "titlePadding": 16}},
        "color": {"field": "s", "type": "nominal", "scale": {"domain": ["k", "r", "g", "b", "c"], "range": ["#000000", "#ff0000", "#00ff00", "#0000ff", "#00ffff"]}, "legend": null}
      }
    },
    {
      "data": {"name": "resid"},
      "mark": {"type": "tick", "orient": "horizontal", "thickness": 1.6, "opacity": 1, "clip": true},
      "encoding": {
        "x": {"field": "e", "type": "quantitative", "scale": {"type": "log", "domain": [0.1493, 2.005], "nice": false}, "axis": {"orient": "top", "values": [0.2,0.3,0.4,0.5,0.6,0.7,0.8,0.9,1,2], "labels": false, "tickSize": -10, "title": null, "minExtent": 0, "maxExtent": 0}},
        "y": {"field": "r", "type": "quantitative", "scale": {"domain": [-4.89, 5.14], "nice": false, "zero": false}, "axis": {"orient": "right", "values": [-4,-3,-2,-1,0,1,2,3,4,5], "labels": false, "tickSize": -8, "title": null, "minExtent": 0, "maxExtent": 0}},
        "color": {"field": "s", "type": "nominal", "scale": {"domain": ["k", "r", "g", "b", "c"], "range": ["#000000", "#ff0000", "#00ff00", "#0000ff", "#00ffff"]}, "legend": null},
        "size": {"field": "e", "type": "quantitative", "scale": {"type": "log", "domain": [0.15, 2], "range": [16, 5]}, "legend": null}
      }
    }
  ],
  "resolve": {"scale": {"size": "independent"}, "axis": {"x": "independent", "y": "independent"}}
}
]
}
